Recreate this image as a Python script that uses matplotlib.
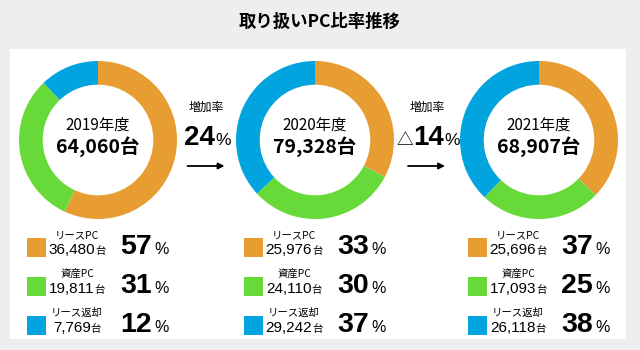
import matplotlib
matplotlib.use("Agg")
import matplotlib.pyplot as plt
from matplotlib.patches import Rectangle

plt.rcParams['font.family'] = ['Noto Sans CJK JP', 'DejaVu Sans']

years = ['2019年度', '2020年度', '2021年度']
lease_pc = [36480, 25976, 25696]
owned_pc = [19811, 24110, 17093]
returned_pc = [7769, 29242, 26118]
growth = ['24', '△14']
series_names = ['リースPC', '資産PC', 'リース返却']
colors = ['#E79D31', '#67DA3A', '#02A4E0']

W, H = 640, 350
CJK = ['Noto Sans CJK JP', 'DejaVu Sans']
LAT = ['Liberation Sans', 'DejaVu Sans']

fig = plt.figure(figsize=(W / 100, H / 100), dpi=100, facecolor='#EEEEEE')
fig.add_artist(Rectangle((10 / W, 1 - 339 / H), 616 / W, 290 / H,
                         transform=fig.transFigure, facecolor='white',
                         edgecolor='none', zorder=-1))

ax = fig.add_axes([0, 0, 1, 1], zorder=3)
ax.set_xlim(0, W)
ax.set_ylim(H, 0)
ax.axis('off')
ax.patch.set_alpha(0)
renderer = fig.canvas.get_renderer()


def put_run(x, y, pieces, ha='center'):
    """Lay out differently styled text pieces on a shared baseline."""
    texts = [ax.text(0, y, s, va='baseline', ha='left', **kw) for s, kw in pieces]
    widths = [t.get_window_extent(renderer).width for t in texts]
    total = sum(widths)
    start = {'center': x - total / 2, 'left': x, 'right': x - total}[ha]
    for t, w in zip(texts, widths):
        t.set_x(start)
        start += w


ax.text(320, 22, '取り扱いPC比率推移', ha='center', va='center',
        fontsize=12.5, fontweight='bold', family=CJK)

centers = [98, 315, 539]
cy, r = 140, 79

for i, cx in enumerate(centers):
    vals = [lease_pc[i], owned_pc[i], returned_pc[i]]
    total = sum(vals)

    pax = fig.add_axes([(cx - r) / W, 1 - (cy + r) / H, 2 * r / W, 2 * r / H], zorder=2)
    pax.pie(vals, colors=colors, startangle=90, counterclock=False,
            wedgeprops=dict(width=0.3, edgecolor='none'))
    pax.set_xlim(-1, 1)
    pax.set_ylim(-1, 1)
    pax.axis('off')

    ax.text(cx, 125, years[i], ha='center', va='center', fontsize=11, family=CJK)
    ax.text(cx, 147, f'{total:,}台', ha='center', va='center', fontsize=14,
            fontweight='bold', family=CJK)

    # legend rows under each donut
    for k, (name, v) in enumerate(zip(series_names, vals)):
        base = 254 + 39 * k
        ax.add_patch(Rectangle((cx - 71, base - 16), 19, 19, facecolor=colors[k],
                               edgecolor='none'))
        ax.text(cx - 21, base - 19, name, ha='center', va='center',
                fontsize=7.5, family=CJK)
        put_run(cx - 21, base, [(f'{v:,}', dict(fontsize=11, family=LAT)),
                                ('台', dict(fontsize=7.5, family=CJK))])
        pct = round(v / total * 100)
        ax.text(cx + 54, base, str(pct), ha='right', va='baseline', fontsize=20.5,
                fontweight='heavy', family=LAT)
        ax.text(cx + 56, base, '%', ha='left', va='baseline', fontsize=11.5, family=LAT)

# growth between years
for j, g in enumerate(growth):
    gx = (centers[j] + r + centers[j + 1] - r) / 2
    ax.text(gx, 107, '増加率', ha='center', va='center', fontsize=8.5, family=CJK)
    pieces = []
    num = g
    if g.startswith('△'):
        pieces.append(('△', dict(fontsize=12, family=CJK)))
        num = g[1:]
    pieces.append((num, dict(fontsize=20, fontweight='heavy', family=LAT)))
    pieces.append(('%', dict(fontsize=12.5, family=LAT)))
    put_run(gx + 1, 145, pieces)
    ax.annotate('', xy=(gx + 18, 166), xytext=(gx - 19, 166),
                arrowprops=dict(arrowstyle='-|>', color='black', lw=1.3,
                                mutation_scale=9, shrinkA=0, shrinkB=0))

fig.savefig('out.png', dpi=100, facecolor=fig.get_facecolor())
